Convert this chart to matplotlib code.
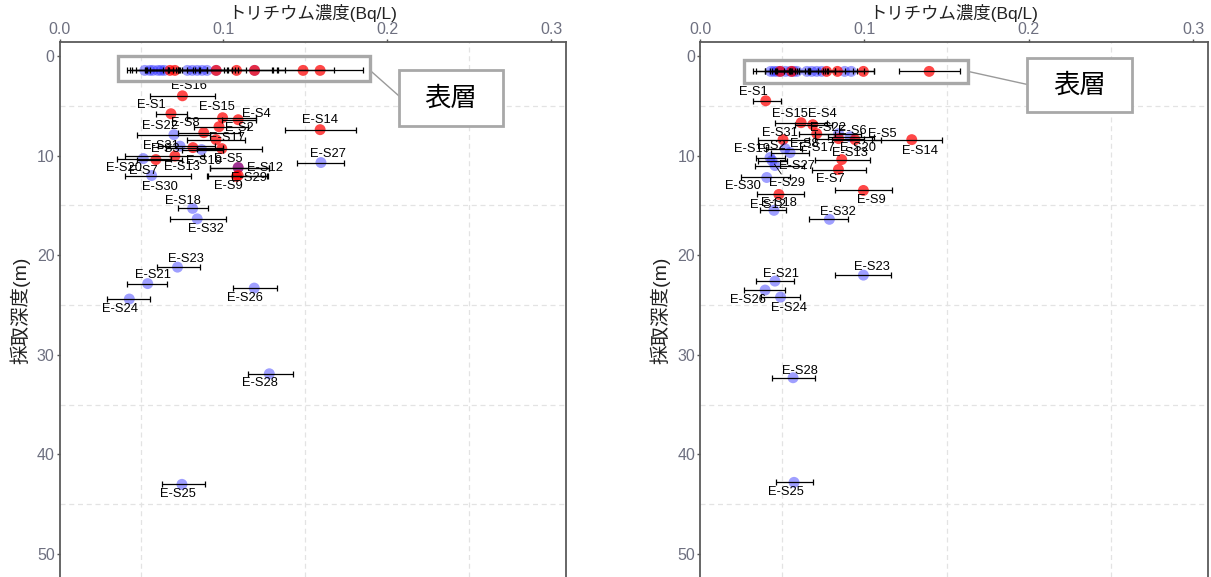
import numpy as np
import matplotlib
matplotlib.use('Agg')
import matplotlib.pyplot as plt
from matplotlib.patches import Rectangle

plt.rcParams['font.family'] = ['Liberation Sans', 'Noto Sans CJK JP', 'DejaVu Sans']

# ---- left panel: labelled wells ----
left_names = ['E-S16', 'E-S1', 'E-S15', 'E-S4', 'E-S2', 'E-S8', 'E-S22', 'E-S14', 'E-S17',
              'E-S6', 'E-S31', 'E-S3', 'E-S19', 'E-S20', 'E-S7', 'E-S13', 'E-S30', 'E-S5',
              'E-S12', 'E-S29', 'E-S9', 'E-S27', 'E-S18', 'E-S32', 'E-S23', 'E-S21',
              'E-S24', 'E-S26', 'E-S28', 'E-S25']
left_conc = [0.075, 0.068, 0.0995, 0.109, 0.0973, 0.088, 0.0698, 0.159, 0.0955,
             0.099, 0.0735, 0.0814, 0.0867, 0.0511, 0.0588, 0.0704, 0.0562, 0.109,
             0.109, 0.109, 0.108, 0.1595, 0.0812, 0.084, 0.072, 0.0538,
             0.0426, 0.1188, 0.128, 0.0747]
left_depth = [4.0, 5.8, 6.2, 6.4, 7.1, 7.7, 7.9, 7.4, 8.4,
              9.3, 9.05, 9.2, 9.4, 10.3, 10.4, 10.05, 12.0, 11.2,
              11.2, 12.0, 12.1, 10.7, 15.3, 16.35, 21.2, 22.85,
              24.4, 23.3, 31.9, 43.0]
left_lo = [0.055, 0.059, 0.078, 0.099, 0.082, 0.072, 0.047, 0.1375, 0.078,
           0.084, 0.060, 0.065, 0.075, 0.035, 0.047, 0.040, 0.040, 0.092,
           0.092, 0.0905, 0.090, 0.145, 0.072, 0.0674, 0.0593, 0.041,
           0.029, 0.106, 0.115, 0.0625]
left_hi = [0.095, 0.078, 0.120, 0.120, 0.115, 0.110, 0.092, 0.181, 0.113,
           0.1235, 0.095, 0.100, 0.100, 0.068, 0.075, 0.088, 0.080, 0.128,
           0.128, 0.1265, 0.127, 0.1735, 0.0903, 0.1015, 0.0857, 0.0657,
           0.055, 0.1324, 0.1424, 0.0887]
left_kind = ['r', 'r', 'r', 'r', 'r', 'r', 'b', 'r', 'r',
             'r', 'b', 'r', 'b', 'b', 'r', 'r', 'b', 'r',
             'b', 'r', 'r', 'b', 'b', 'b', 'b', 'b',
             'b', 'b', 'b', 'b']

# ---- left panel: surface samples ----
left_surf_depth = 1.45
left_surf_conc = [0.052, 0.055, 0.057, 0.060, 0.062, 0.064, 0.0674, 0.0704, 0.078, 0.081,
                  0.084, 0.087, 0.090, 0.0956, 0.0956, 0.108, 0.119, 0.119, 0.1486, 0.159]
left_surf_err = [0.011, 0.012, 0.0125, 0.0135, 0.010, 0.011, 0.014, 0.015, 0.012, 0.009,
                 0.018, 0.016, 0.017, 0.018, 0.013, 0.022, 0.0135, 0.0185, 0.019, 0.026]
left_surf_kind = ['b', 'b', 'b', 'b', 'b', 'b', 'r', 'r', 'b', 'b',
                  'b', 'b', 'b', 'b', 'r', 'r', 'b', 'r', 'r', 'r']

# ---- right panel: labelled wells ----
right_names = ['E-S1', 'E-S15', 'E-S4', 'E-S22', 'E-S6', 'E-S8', 'E-S31', 'E-S5', 'E-S20',
               'E-S14', 'E-S19', 'E-S2', 'E-S17', 'E-S13', 'E-S7', 'E-S27', 'E-S29',
               'E-S30', 'E-S9', 'E-S18', 'E-S12', 'E-S32', 'E-S23', 'E-S21', 'E-S26',
               'E-S24', 'E-S28', 'E-S25']
right_conc = [0.040, 0.0615, 0.0686, 0.071, 0.0843, 0.0843, 0.0505, 0.0913, 0.0943,
              0.1288, 0.0426, 0.0517, 0.0548, 0.0862, 0.0842, 0.0456, 0.0438,
              0.0406, 0.0994, 0.048, 0.045, 0.0787, 0.0994, 0.0456, 0.0396,
              0.049, 0.0566, 0.0572]
right_depth = [4.5, 6.7, 6.9, 7.8, 7.8, 8.3, 8.4, 8.1, 8.4,
               8.4, 10.2, 9.3, 9.7, 10.4, 11.4, 11.0, 10.5,
               12.2, 13.5, 13.9, 15.5, 16.4, 22.0, 22.6, 23.5,
               24.2, 32.3, 42.8]
right_lo = [0.032, 0.0456, 0.058, 0.060, 0.070, 0.070, 0.035, 0.078, 0.080,
            0.1045, 0.034, 0.040, 0.043, 0.070, 0.068, 0.0335, 0.035,
            0.025, 0.082, 0.0345, 0.0365, 0.066, 0.082, 0.034, 0.027,
            0.037, 0.044, 0.046]
right_hi = [0.049, 0.077, 0.080, 0.082, 0.098, 0.100, 0.066, 0.106, 0.110,
            0.147, 0.052, 0.062, 0.066, 0.1035, 0.101, 0.063, 0.053,
            0.055, 0.117, 0.063, 0.0523, 0.090, 0.116, 0.0574, 0.052,
            0.061, 0.070, 0.069]
right_kind = ['r', 'r', 'r', 'r', 'b', 'r', 'r', 'b', 'r',
              'r', 'b', 'b', 'b', 'r', 'r', 'b', 'b',
              'b', 'r', 'r', 'b', 'b', 'b', 'b', 'b',
              'b', 'b', 'b']

# ---- right panel: surface samples ----
right_surf_depth = 1.55
right_surf_conc = [0.043, 0.045, 0.047, 0.049, 0.052, 0.055, 0.057, 0.059, 0.065, 0.068,
                   0.071, 0.074, 0.088, 0.092, 0.0487, 0.0558, 0.077, 0.0836, 0.0994, 0.1394]
right_surf_err = [0.011, 0.011, 0.0075, 0.0065, 0.008, 0.009, 0.010, 0.008, 0.010, 0.009,
                  0.011, 0.008, 0.012, 0.014, 0.009, 0.010, 0.011, 0.012, 0.0066, 0.0186]
right_surf_kind = ['b'] * 14 + ['r'] * 6

xticks = [0.0, 0.1, 0.2, 0.3]
xticklabels = ['0.0', '0.1', '0.2', '0.3']
yticks = [0, 10, 20, 30, 40, 50]

# label offsets (points) for ggrepel-like placement
left_offsets = {
    'E-S16': (5, 7), 'E-S1': (-14, 6), 'E-S15': (-4, 8), 'E-S4': (13, 4), 'E-S2': (15, -1),
    'E-S8': (-13, 7), 'E-S22': (-10, 6), 'E-S14': (0, 7), 'E-S17': (8, 1), 'E-S31': (-14, 0),
    'E-S3': (-20, -1), 'E-S19': (2, -8), 'E-S20': (-14, -7), 'E-S7': (-9, -8), 'E-S13': (5, -8),
    'E-S5': (-7, 6), 'E-S12': (19, 0), 'E-S29': (8, -2), 'E-S9': (-6, -7), 'E-S27': (5, 6),
    'E-S30': (6, -8), 'E-S18': (-7, 5), 'E-S32': (6, -7), 'E-S23': (6, 6), 'E-S21': (4, 6),
    'E-S24': (-7, -7), 'E-S26': (-7, -7), 'E-S28': (-7, -7), 'E-S25': (-3, -7),
}
left_hidden = ['E-S6']
right_offsets = {
    'E-S1': (-9, 6), 'E-S15': (-8, 6), 'E-S4': (7, 8), 'E-S22': (8, 4), 'E-S6': (10, 2),
    'E-S8': (-25, -4), 'E-S31': (-2, 5), 'E-S5': (23, 2), 'E-S20': (2, -6), 'E-S14': (6, -8),
    'E-S19': (-13, 6), 'E-S2': (-10, 2), 'E-S17': (19, 3), 'E-S13': (6, 5), 'E-S7': (-6, -7),
    'E-S27': (16, 0), 'E-S29': (11, -16), 'E-S30': (-17, -6), 'E-S9': (6, -7), 'E-S18': (0, -6),
    'E-S12': (-4, 4), 'E-S32': (6, 5), 'E-S23': (6, 6), 'E-S21': (4, 5), 'E-S26': (-12, -7),
    'E-S24': (6, -8), 'E-S28': (5, 5), 'E-S25': (-6, -7),
}
right_hidden = []

point_colors = {'r': (1.0, 0.0, 0.0, 0.72), 'b': (0.1, 0.1, 1.0, 0.42)}
tick_color = '#6e7080'
grid_color = '#e3e3e3'


def draw_panel(ax, names, conc, depth, lo, hi, kind, s_conc, s_err, s_kind, s_depth,
               offsets, hidden, box, callout, link):
    conc = np.array(conc)
    depth = np.array(depth)
    lo = np.array(lo)
    hi = np.array(hi)
    s_conc = np.array(s_conc)
    s_err = np.array(s_err)

    for v in [0.05, 0.15, 0.25]:
        ax.axvline(v, color=grid_color, ls=(0, (4, 3)), lw=0.9, zorder=0)
    for v in [5, 15, 25, 35, 45]:
        ax.axhline(v, color=grid_color, ls=(0, (4, 3)), lw=0.9, zorder=0)

    cols = [point_colors[k] for k in kind]
    ax.scatter(conc, depth, s=62, c=cols, edgecolors='none', zorder=3)
    ax.errorbar(conc, depth, xerr=[conc - lo, hi - conc], fmt='none', ecolor='black',
                elinewidth=0.9, capsize=2.2, capthick=0.9, zorder=4)

    scols = [point_colors[k] for k in s_kind]
    sd = np.full(len(s_conc), s_depth)
    ax.scatter(s_conc, sd, s=62, c=scols, edgecolors='none', zorder=3)
    ax.errorbar(s_conc, sd, xerr=s_err, fmt='none', ecolor='black',
                elinewidth=0.9, capsize=2.2, capthick=0.9, zorder=4)

    for n, x, y in zip(names, conc, depth):
        if n in hidden:
            continue
        dx, dy = offsets.get(n, (0, 7))
        arrow = None
        if abs(dy) > 12:
            arrow = dict(arrowstyle='-', color='black', lw=0.6, shrinkA=0, shrinkB=3)
        ax.annotate(n, (x, y), xytext=(dx, dy), textcoords='offset points',
                    ha='center', va='center', fontsize=9.3, color='black',
                    arrowprops=arrow, zorder=5)

    # surface group box and call-out
    bx0, bx1, by0, by1 = box
    ax.add_patch(Rectangle((bx0, by0), bx1 - bx0, by1 - by0, fill=False,
                           ec='#a8a8a8', lw=2.4, zorder=6))
    cx0, cx1, cy0, cy1 = callout
    ax.add_patch(Rectangle((cx0, cy0), cx1 - cx0, cy1 - cy0, fc='white',
                           ec='#a8a8a8', lw=2.0, zorder=6, clip_on=False))
    ax.plot([link[0], link[1]], [link[2], link[3]], color='#9a9a9a', lw=1.0, zorder=5)
    ax.text((cx0 + cx1) / 2, (cy0 + cy1) / 2, '表層', ha='center', va='center',
            fontsize=19, family=['Noto Sans CJK JP'], zorder=7)

    ax.set_xlim(0, 0.309)
    ax.set_ylim(52.3, -1.4)
    ax.xaxis.tick_top()
    ax.set_xticks(xticks)
    ax.set_xticklabels(xticklabels)
    ax.set_yticks(yticks)
    ax.tick_params(axis='both', colors='#555555', labelcolor=tick_color, labelsize=11.5,
                   length=2.5, width=1.0, pad=1)
    for side in ['left', 'top', 'right']:
        ax.spines[side].set_color('#5a5a5a')
        ax.spines[side].set_linewidth(1.3)
    ax.spines['bottom'].set_visible(False)


fig = plt.figure(figsize=(12.11, 5.77), dpi=100)
ax1 = fig.add_axes([59.5 / 1211, 0.0, 506.5 / 1211, 535 / 577])
ax2 = fig.add_axes([700 / 1211, 0.0, 508 / 1211, 535 / 577])

draw_panel(ax1, left_names, left_conc, left_depth, left_lo, left_hi, left_kind,
           left_surf_conc, left_surf_err, left_surf_kind, left_surf_depth,
           left_offsets, left_hidden,
           box=(0.0356, 0.1895, 0.0, 2.5), callout=(0.207, 0.2705, 1.45, 7.0),
           link=(0.1895, 0.207, 1.45, 4.0))
draw_panel(ax2, right_names, right_conc, right_depth, right_lo, right_hi, right_kind,
           right_surf_conc, right_surf_err, right_surf_kind, right_surf_depth,
           right_offsets, right_hidden,
           box=(0.0265, 0.163, 0.4, 2.7), callout=(0.199, 0.2627, 0.23, 5.66),
           link=(0.163, 0.199, 1.55, 2.86))

title = 'トリチウム濃度(Bq/L)'
ylab = '採取深度(m)'
for ax_left, ax_w, lab_x in [(59.5, 506.5, 20), (700, 508, 660)]:
    fig.text((ax_left + ax_w / 2) / 1211, 1 - 13 / 577, title, ha='center', va='center',
             fontsize=12.5, color='#222222')
    fig.text(lab_x / 1211, 1 - 310 / 577, ylab, ha='center', va='center', rotation=90,
             fontsize=14, color='#222222')

fig.savefig('out.png', dpi=100)
